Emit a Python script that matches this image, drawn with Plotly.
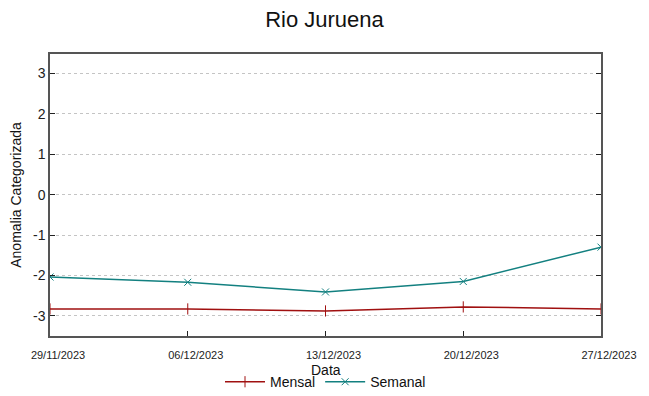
import plotly.graph_objects as go

dates = ["2023-11-29", "2023-12-06", "2023-12-13", "2023-12-20", "2023-12-27"]
tick_labels = ["29/11/2023", "06/12/2023", "13/12/2023", "20/12/2023", "27/12/2023"]
mensal = [-2.83, -2.83, -2.88, -2.78, -2.83]
semanal = [-2.04, -2.17, -2.41, -2.15, -1.30]
y_ticks = [3, 2, 1, 0, -1, -2, -3]
y_tick_labels = ["3", "2", "1", "0", "-1", "-2", "-3"]
x_title = "Data"

fig = go.Figure()
fig.add_trace(go.Scatter(
    x=dates, y=mensal, name="Mensal", mode="lines+markers",
    line=dict(color="#a01010", width=1.5),
    marker=dict(symbol="line-ns-open", size=8, color="#a01010", line=dict(width=1, color="#a01010")),
))
fig.add_trace(go.Scatter(
    x=dates, y=semanal, name="Semanal", mode="lines+markers",
    line=dict(color="#138080", width=1.5),
    marker=dict(symbol="x-thin-open", size=7, color="#138080", line=dict(width=1, color="#138080")),
))

fig.update_layout(
    width=649, height=396,
    margin=dict(l=50, r=48, t=54, b=60, autoexpand=False),
    paper_bgcolor="white", plot_bgcolor="white",
    font=dict(family="Liberation Sans, Arial, sans-serif", color="#222"),
    title=dict(text="Rio Juruena", x=0.5, xanchor="center", y=0.952, yanchor="middle",
               yref="container", font=dict(size=22, color="#111")),
    showlegend=True,
    legend=dict(orientation="h", x=0.5, xanchor="center", y=0.035, yanchor="middle",
                yref="container",
                font=dict(size=14, color="#111"), bgcolor="rgba(0,0,0,0)",
                itemwidth=40, traceorder="normal"),
    annotations=[dict(text=x_title, xref="paper", yref="paper", x=0.5, y=-0.122,
                      xanchor="center", yanchor="middle", showarrow=False,
                      font=dict(size=14, color="#111"))],
)
fig.update_xaxes(
    type="date", range=["2023-11-29", "2023-12-27"],
    tickvals=dates, ticktext=tick_labels,
    ticks="inside", ticklen=5, tickcolor="#222",
    tickfont=dict(size=11, family="Liberation Sans Narrow, Liberation Sans, Arial", color="#222"),
    ticklabelshift=8, ticklabelstandoff=8,
    showgrid=False, zeroline=False, automargin=False,
    showline=True, linecolor="#555", linewidth=1.5, mirror=True,
)
fig.update_yaxes(
    range=[-3.5, 3.48],
    tickvals=y_ticks, ticktext=y_tick_labels, ticks="inside", ticklen=5, tickcolor="#222",
    tickfont=dict(size=14, color="#222"),
    showgrid=True, gridcolor="#c4c4c4", griddash="dot", gridwidth=1,
    zeroline=False, automargin=False,
    showline=True, linecolor="#555", linewidth=1.5, mirror="ticks",
    title=dict(text="Anomalia Categorizada", font=dict(size=14, color="#111"), standoff=8),
)

fig.write_html("out.html", config={"displayModeBar": False},
               post_script="document.body.style.margin='0';")
